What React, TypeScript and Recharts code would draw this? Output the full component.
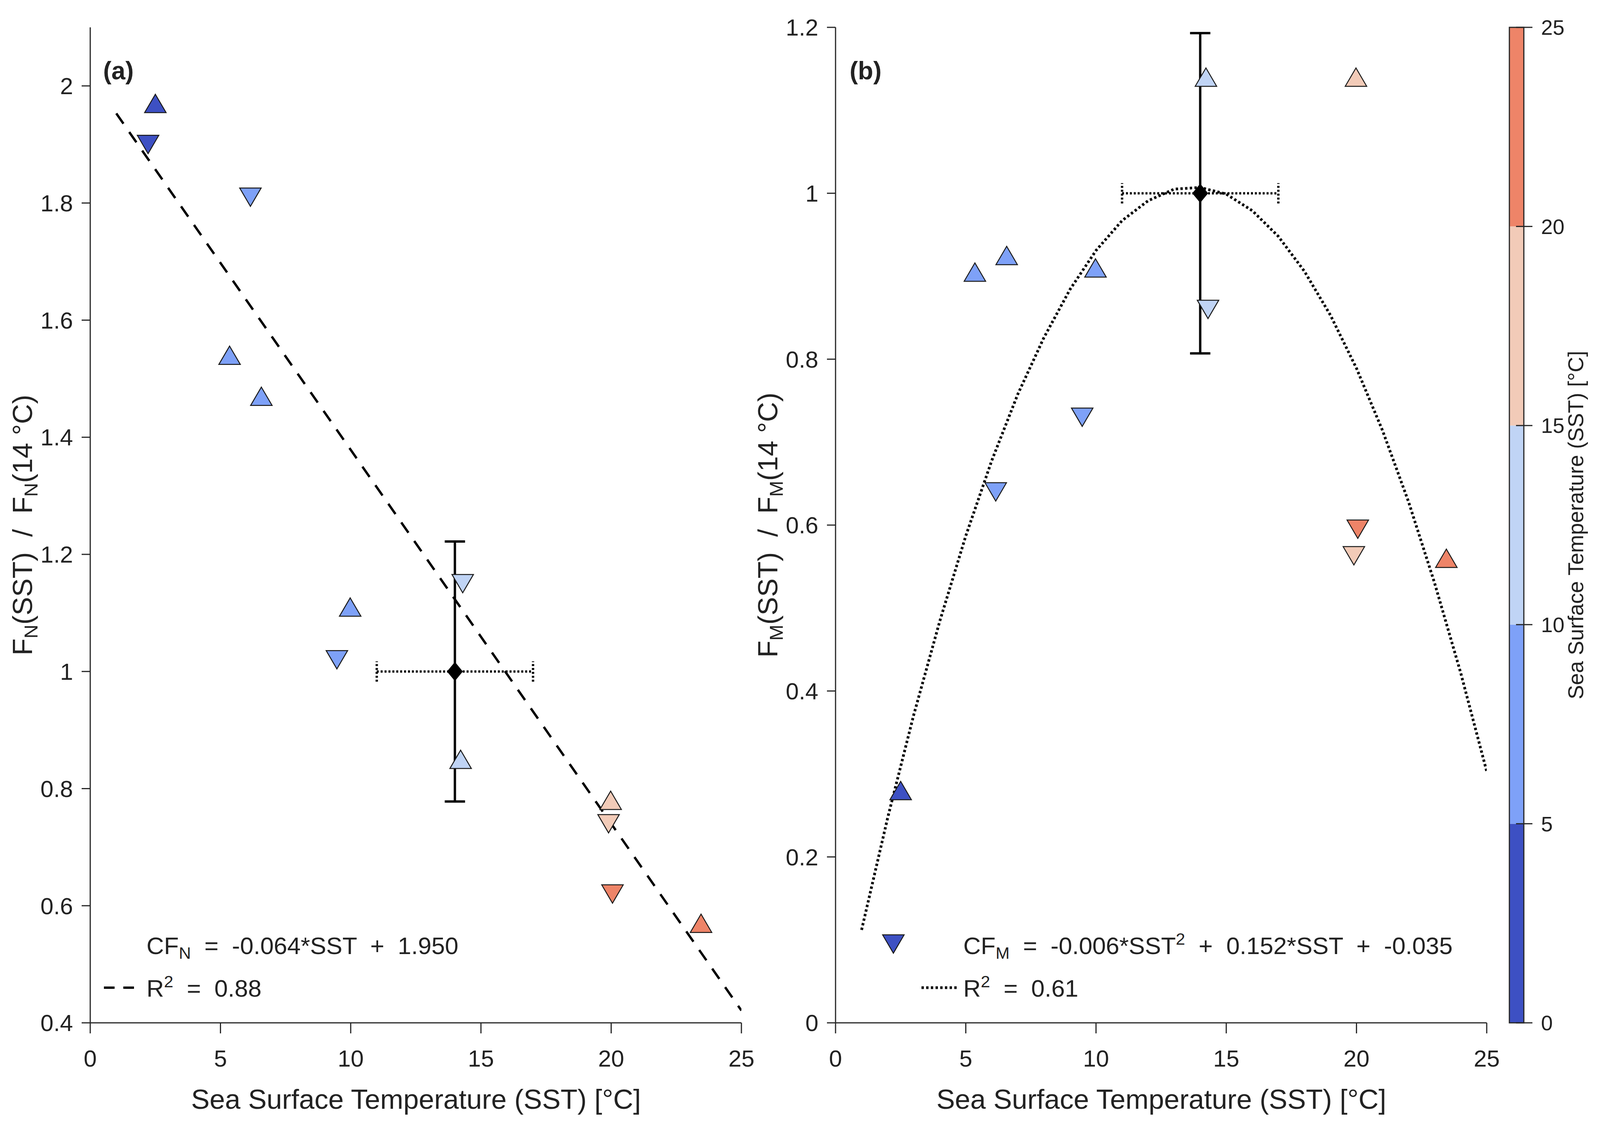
import React from 'react';
import {
  ComposedChart, Scatter, Line, XAxis, YAxis, ErrorBar, ReferenceArea, ReferenceLine,
} from 'recharts';

const FONT = '"Liberation Sans", Arial, Helvetica, sans-serif';
const INK = '#262626';

// station SST values (°C), split by marker type
const sstUp = [2.5, 5.35, 6.57, 9.98, 14.22, 19.98, 23.45];
const sstDown = [2.22, 6.15, 9.47, 14.3, 19.9, 20.05];

// (a) F_N(SST) / F_N(14 °C)
const fnUp = [1.97, 1.54, 1.47, 1.11, 0.85, 0.78, 0.57];
const fnDown = [1.9, 1.81, 1.02, 1.15, 0.74, 0.62];

// (b) F_M(SST) / F_M(14 °C)
const fmUp = [0.28, 0.905, 0.925, 0.91, 1.14, 1.14, 0.56];
const fmDown = [0.095, 0.64, 0.73, 0.86, 0.563, 0.595];

// reference point at 14 °C with its error bars
const refSST = 14;
const refValue = 1;
const refSSTErr = 3;
const fnErr = 0.222;
const fmErr = 0.193;

// fitted curves
const fitNx = [1, 25];
const fitNy = [1.953, 0.421];
const fitMx = [1, 2, 3, 4, 5, 6, 7, 8, 9, 10, 11, 12, 13, 14, 15, 16, 17, 18, 19, 20, 21, 22, 23, 24, 25];
const fitMy = [0.112, 0.247, 0.371, 0.484, 0.587, 0.678, 0.758, 0.826, 0.884, 0.931, 0.967, 0.991, 1.005,
  1.007, 0.999, 0.979, 0.948, 0.906, 0.853, 0.789, 0.714, 0.628, 0.53, 0.422, 0.303];

// axes
const xTicks = [0, 5, 10, 15, 20, 25];
const yTicksA = [0.4, 0.6, 0.8, 1, 1.2, 1.4, 1.6, 1.8, 2];
const yTicksB = [0, 0.2, 0.4, 0.6, 0.8, 1, 1.2];

// colour bar
const cbEdges = [0, 5, 10, 15, 20, 25];
const cbColors = ['#3D50C3', '#7EA1F8', '#C0D4F5', '#F2CBB8', '#EE8468'];

// the sandbox window may be narrower than the 5487px design; squeeze x positions to fit
const DESIGN_W = 5487;
const VIEW_W = typeof window !== 'undefined' ? Math.min(window.innerWidth || DESIGN_W, DESIGN_W) : DESIGN_W;
const sx = VIEW_W / DESIGN_W;
const fs = Math.sqrt(sx);
const X = (v: number) => Math.round(v * sx);
const F = (v: number) => Math.round(v * fs);

const zip = (xs: number[], ys: number[]) => xs.map((x, i) => ({ x, y: ys[i] }));

const sstColor = (v: number) => {
  for (let i = 0; i < cbColors.length; i++) {
    if (v < cbEdges[i + 1]) return cbColors[i];
  }
  return cbColors[cbColors.length - 1];
};

const triangle = (dir: 'up' | 'down') => (props: any) => {
  const { cx, cy, payload } = props;
  if (cx == null || cy == null) return <g />;
  const w = F(64);
  const h = F(54);
  const s = dir === 'up' ? 1 : -1;
  const pts = `${cx},${cy - (s * h) / 2} ${cx + w / 2},${cy + (s * h) / 2} ${cx - w / 2},${cy + (s * h) / 2}`;
  return <polygon points={pts} fill={sstColor(payload.x)} stroke="#1a1a1a" strokeWidth={2.5} />;
};

const diamond = (props: any) => {
  const { cx, cy } = props;
  if (cx == null || cy == null) return <g />;
  const hw = F(22);
  const hh = F(27);
  const pts = `${cx},${cy - hh} ${cx + hw},${cy} ${cx},${cy + hh} ${cx - hw},${cy}`;
  return <polygon points={pts} fill="#000" stroke="#000" strokeWidth={2} />;
};

const axisProps = {
  axisLine: { stroke: INK, strokeWidth: 3 },
  tickLine: { stroke: INK, strokeWidth: 3 },
  tick: { fontSize: F(70), fill: '#222' },
};

function Panel({ left, width, yWidth, right, yDomain, yTicks, up, down, fit, fitDash, fitWidth, yErr }: any) {
  const center = [{ x: refSST, y: refValue, ex: refSSTErr, ey: yErr }];
  return (
    <div style={{ position: 'absolute', left, top: 0 }}>
      <ComposedChart width={width} height={2900} margin={{ top: 70, right, bottom: 0, left: 0 }}>
        <XAxis
          type="number" dataKey="x" domain={[0, 25]} ticks={xTicks} interval={0} allowDataOverflow
          height={282} tickSize={27} tickMargin={42} {...axisProps}
        />
        <YAxis
          type="number" dataKey="y" domain={yDomain} ticks={yTicks} interval={0} allowDataOverflow
          width={yWidth} tickSize={F(26)} tickMargin={F(26)} {...axisProps}
        />
        <Scatter data={up} dataKey="y" shape={triangle('up')} isAnimationActive={false} />
        <Scatter data={down} dataKey="y" shape={triangle('down')} isAnimationActive={false} />
        <Line
          data={fit} dataKey="y" type="linear" stroke="#000" strokeWidth={fitWidth}
          strokeDasharray={fitDash} dot={false} activeDot={false} isAnimationActive={false}
        />
        <Scatter data={center} dataKey="y" shape={diamond} isAnimationActive={false}>
          <ErrorBar dataKey="ey" direction="y" width={F(30)} stroke="#000" strokeWidth={6} />
          <ErrorBar dataKey="ex" direction="x" width={26} stroke="#000" strokeWidth={6} strokeDasharray="5 5" />
        </Scatter>
      </ComposedChart>
    </div>
  );
}

const cbTick = (props: any) => {
  const { x, y, payload } = props;
  return (
    <text x={x} y={y} dy="0.355em" textAnchor="start" fontSize={F(62)} fill="#222">
      {payload.value}
    </text>
  );
};

function ColorBar() {
  const bins = cbColors.map((c, i) => ({ lo: cbEdges[i], hi: cbEdges[i + 1], color: c }));
  return (
    <div style={{ position: 'absolute', left: X(5100), top: 0 }}>
      <ComposedChart
        width={X(387)} height={2900}
        margin={{ top: 70, right: 0, bottom: 282, left: X(76) }}
        data={[{ x: 0 }, { x: 1 }]}
      >
        <XAxis type="number" dataKey="x" domain={[0, 1]} hide allowDataOverflow />
        <YAxis
          type="number" orientation="right" domain={[0, 25]} ticks={cbEdges} interval={0} allowDataOverflow
          width={X(387) - X(76) - X(50)} tickSize={F(26)} tickMargin={F(26)} axisLine={false}
          tickLine={{ stroke: INK, strokeWidth: 3 }} tick={cbTick}
        />
        {bins.map((b) => (
          <ReferenceArea key={b.lo} x1={0} x2={1} y1={b.lo} y2={b.hi} fill={b.color} fillOpacity={1} stroke="none" />
        ))}
        {cbEdges.map((v) => (
          <ReferenceLine key={'t' + v} segment={[{ x: 0.46, y: v }, { x: 1, y: v }]} stroke={INK} strokeWidth={3} />
        ))}
        <ReferenceArea x1={0} x2={1} y1={0} y2={25} fill="none" stroke={INK} strokeWidth={3} />
      </ComposedChart>
    </div>
  );
}

function YTitle({ x, sub }: { x: number; sub: string }) {
  const d = F(16);
  return (
    <text transform={`translate(${x},1344) rotate(-90)`} textAnchor="middle" fontSize={F(82)} fill="#222" xmlSpace="preserve">
      F<tspan fontSize={F(57)} dy={d}>{sub}</tspan>
      <tspan dy={-d}>(SST)  /  F</tspan>
      <tspan fontSize={F(57)} dy={d}>{sub}</tspan>
      <tspan dy={-d}>(14 °C)</tspan>
    </text>
  );
}

function Overlay() {
  const xTitle = 'Sea Surface Temperature (SST) [°C]';
  const fl = F(72);
  const fsub = F(50);
  const dn = F(14);
  const up = F(28);
  return (
    <svg width={VIEW_W} height={2900} style={{ position: 'absolute', left: 0, top: 0, pointerEvents: 'none' }}>
      <g fill="#222">
        <text x={X(353)} y={203} fontSize={F(74)} fontWeight="bold">(a)</text>
        <text x={X(2914)} y={203} fontSize={F(74)} fontWeight="bold">(b)</text>

        <text x={X(1427)} y={2838} fontSize={F(82)} textAnchor="middle">{xTitle}</text>
        <text x={X(3982)} y={2838} fontSize={F(82)} textAnchor="middle">{xTitle}</text>

        <YTitle x={X(110)} sub="N" />
        <YTitle x={X(2666)} sub="M" />

        <text transform={`translate(${X(5430)},1344) rotate(-90)`} fontSize={F(64)} textAnchor="middle">{xTitle}</text>

        <text x={X(503)} y={2442} fontSize={fl} xmlSpace="preserve">
          CF<tspan fontSize={fsub} dy={dn}>N</tspan><tspan dy={-dn}>  =  -0.064*SST  +  1.950</tspan>
        </text>
        <text x={X(503)} y={2551} fontSize={fl} xmlSpace="preserve">
          R<tspan fontSize={fsub} dy={-up}>2</tspan><tspan dy={up}>  =  0.88</tspan>
        </text>

        <text x={X(3304)} y={2442} fontSize={fl} xmlSpace="preserve">
          CF<tspan fontSize={fsub} dy={dn}>M</tspan><tspan dy={-dn}>  =  -0.006*SST</tspan>
          <tspan fontSize={fsub} dy={-up}>2</tspan><tspan dy={up}>  +  0.152*SST  +  -0.035</tspan>
        </text>
        <text x={X(3304)} y={2551} fontSize={fl} xmlSpace="preserve">
          R<tspan fontSize={fsub} dy={-up}>2</tspan><tspan dy={up}>  =  0.61</tspan>
        </text>
      </g>
      <line x1={X(356)} x2={X(460)} y1={2528} y2={2528} stroke="#000" strokeWidth={6}
        strokeDasharray={`${(X(460) - X(356)) * 0.355} ${(X(460) - X(356)) * 0.29}`} />
      <line x1={X(3160)} x2={X(3286)} y1={2528} y2={2528} stroke="#000" strokeWidth={7} strokeDasharray="6 6" />
    </svg>
  );
}

export default function App() {
  return (
    <div style={{ position: 'absolute', left: 0, top: 0, width: VIEW_W, height: 2900, background: '#fff', fontFamily: FONT }}>
      <Panel
        left={0} width={X(2700)} yWidth={X(310)} right={X(2700) - X(2543)}
        yDomain={[0.4, 2.1]} yTicks={yTicksA}
        up={zip(sstUp, fnUp)} down={zip(sstDown, fnDown)}
        fit={zip(fitNx, fitNy)} fitDash={`${F(37)} ${F(30)}`} fitWidth={6} yErr={fnErr}
      />
      <Panel
        left={X(2600)} width={X(5200) - X(2600)} yWidth={X(2866) - X(2600)} right={X(5200) - X(5098)}
        yDomain={[0, 1.2]} yTicks={yTicksB}
        up={zip(sstUp, fmUp)} down={zip(sstDown, fmDown)}
        fit={zip(fitMx, fitMy)} fitDash="6 6" fitWidth={7} yErr={fmErr}
      />
      <ColorBar />
      <Overlay />
    </div>
  );
}
